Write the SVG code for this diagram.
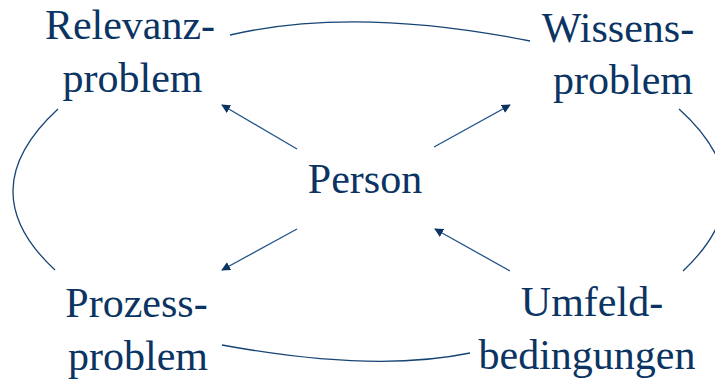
<svg xmlns="http://www.w3.org/2000/svg" width="715" height="381" viewBox="0 0 715 381">
<style>
.t{font-family:"Liberation Serif","Times New Roman",serif;font-size:42px;fill:#0B3463;text-anchor:middle}
.c{fill:none;stroke:#164474;stroke-width:1.3}
.a{fill:none;stroke:#22548A;stroke-width:1.3;marker-end:url(#ah)}
</style>
<defs>
<marker id="ah" viewBox="0 0 10 10" refX="9" refY="5" markerWidth="9" markerHeight="9" markerUnits="userSpaceOnUse" orient="auto">
<path d="M0,0 L10,5 L0,10 z" fill="#0B3463"/>
</marker>
</defs>
<rect width="715" height="381" fill="#fff"/>
<g id="connectors">
<path class="c" d="M230,35 Q354,6 530,41"/>
<path class="c" d="M222,345 Q374,373 470,353"/>
<path class="c" d="M58,109 Q-30.5,190.5 55,270"/>
<path class="c" d="M679,109 Q769,190 683,271"/>
<line class="a" x1="297" y1="149" x2="222" y2="105"/>
<line class="a" x1="434" y1="147" x2="510" y2="105"/>
<line class="a" x1="297" y1="229" x2="222" y2="270"/>
<line class="a" x1="510" y1="271" x2="435" y2="229"/>
</g>
<g id="relevanz">
<text class="t" x="130" y="39">Relevanz-</text>
<text class="t" x="132.5" y="92">problem</text>
</g>
<g id="wissens">
<text class="t" x="618" y="42">Wissens-</text>
<text class="t" x="623" y="94">problem</text>
</g>
<g id="person">
<text class="t" x="365" y="193">Person</text>
</g>
<g id="prozess">
<text class="t" x="136.5" y="317">Prozess-</text>
<text class="t" x="138" y="370">problem</text>
</g>
<g id="umfeld">
<text class="t" x="592" y="316">Umfeld-</text>
<text class="t" x="587" y="369">bedingungen</text>
</g>
</svg>
